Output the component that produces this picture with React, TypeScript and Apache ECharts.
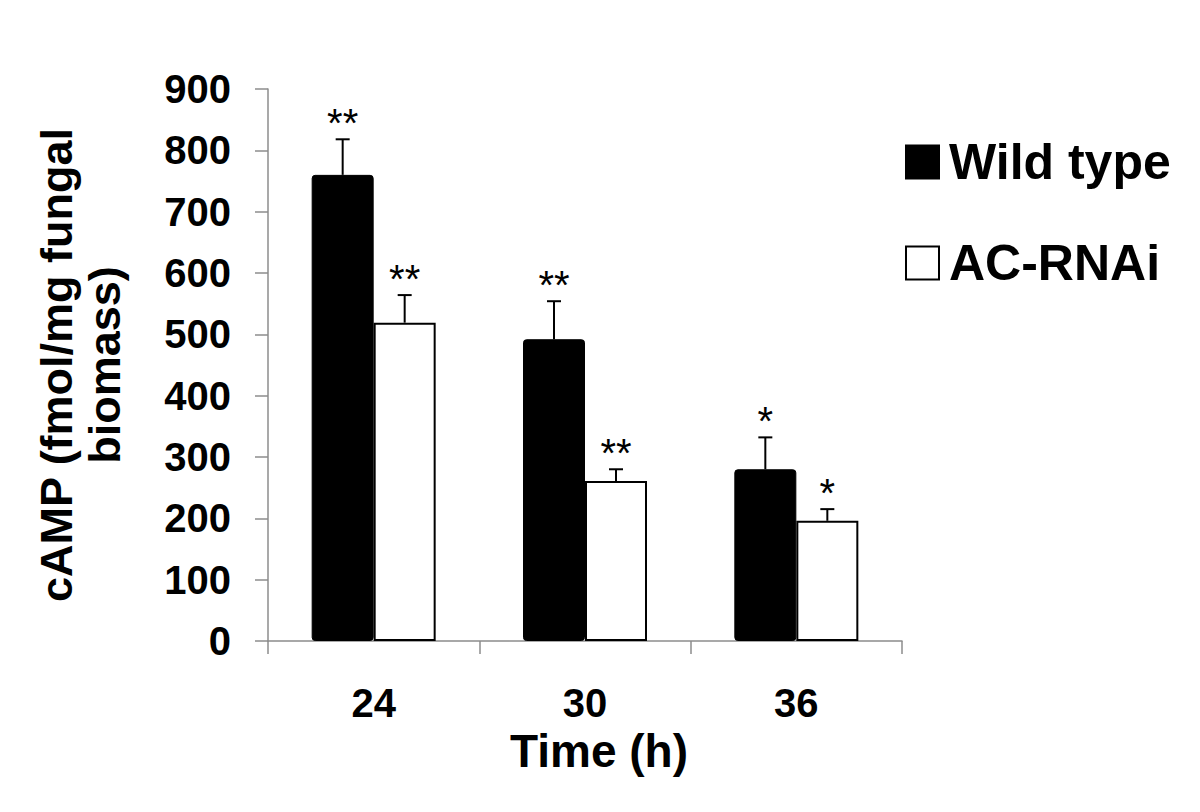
import React, { useEffect, useRef } from "react";
import * as echarts from "echarts";

const categories = ["24", "30", "36"];
const wildType = [760, 492, 280];
const wildTypeErr = [58, 62, 52];
const wildTypeSig = ["**", "**", "*"];
const acRnai = [519, 261, 196];
const acRnaiErr = [45, 19, 19];
const acRnaiSig = ["**", "**", "*"];
const seriesNames = ["Wild type", "AC-RNAi"];
const yMin = 0;
const yMax = 900;
const yStep = 100;

const FONT = "Liberation Sans, Arial, sans-serif";
const BAR_W = 62;

function errorSeries(values: number[], errs: number[], sigs: string[], offset: number) {
  return {
    type: "custom",
    z: 5,
    silent: true,
    data: values.map((v, i) => [i, v, errs[i]]),
    encode: { x: 0, y: 1 },
    renderItem: (params: any, api: any) => {
      const idx = api.value(0);
      const val = api.value(1);
      const err = api.value(2);
      const base = api.coord([idx, val]);
      const top = api.coord([idx, val + err]);
      const x = base[0] + offset;
      return {
        type: "group",
        children: [
          { type: "line", shape: { x1: x, y1: base[1], x2: x, y2: top[1] }, style: { stroke: "#000", lineWidth: 2 } },
          { type: "line", shape: { x1: x - 7, y1: top[1], x2: x + 7, y2: top[1] }, style: { stroke: "#000", lineWidth: 2 } },
          {
            type: "text",
            x,
            y: top[1] - 16,
            style: { text: sigs[params.dataIndex], fontSize: 40, fontFamily: FONT, fill: "#000", align: "center", verticalAlign: "middle" },
          },
        ],
      };
    },
  };
}

export default function App() {
  const ref = useRef<HTMLDivElement>(null);
  useEffect(() => {
    if (!ref.current) return;
    const chart = echarts.init(ref.current, null, { renderer: "svg" });
    const axisGray = "#8c8c8c";
    chart.setOption({
      animation: false,
      backgroundColor: "#fff",
      grid: { left: 268, right: 298, top: 89, bottom: 171 },
      legend: {
        orient: "vertical",
        left: 905,
        top: 137,
        padding: 0,
        itemWidth: 33,
        itemHeight: 33,
        itemGap: 51,
        icon: "rect",
        data: seriesNames,
        textStyle: { fontSize: 50, fontWeight: "bold", fontFamily: FONT, color: "#000", lineHeight: 33, padding: [0, 0, 0, 5] },
      },
      xAxis: {
        type: "category",
        data: categories,
        name: "Time (h)",
        nameLocation: "middle",
        nameGap: 85,
        nameTextStyle: { fontSize: 46, fontWeight: "bold", fontFamily: FONT, color: "#000", padding: [0, 0, 0, 28] },
        axisLine: { lineStyle: { color: axisGray, width: 1.5 } },
        axisTick: { show: true, length: 13, lineStyle: { color: axisGray, width: 1.5 } },
        axisLabel: { fontSize: 40, fontWeight: "bold", fontFamily: FONT, color: "#000", margin: 42 },
      },
      yAxis: {
        type: "value",
        min: yMin,
        max: yMax,
        interval: yStep,
        name: "cAMP (fmol/mg fungal\nbiomass)",
        nameLocation: "middle",
        nameGap: 140,
        nameTextStyle: { fontSize: 45, fontWeight: "bold", fontFamily: FONT, color: "#000", lineHeight: 48, align: "center" },
        axisLine: { show: true, lineStyle: { color: axisGray, width: 1.5 } },
        axisTick: { show: true, length: 13, lineStyle: { color: axisGray, width: 1.5 } },
        splitLine: { show: false },
        axisLabel: { fontSize: 40, fontWeight: "bold", fontFamily: FONT, color: "#000", margin: 37 },
      },
      series: [
        {
          name: seriesNames[0],
          type: "bar",
          data: wildType,
          barWidth: BAR_W,
          barGap: "0%",
          itemStyle: { color: "#000", borderColor: "#000", borderWidth: 1, borderRadius: 3 },
        },
        {
          name: seriesNames[1],
          type: "bar",
          data: acRnai,
          barWidth: BAR_W,
          barGap: "0%",
          itemStyle: { color: "#fff", borderColor: "#000", borderWidth: 2 },
        },
        errorSeries(wildType, wildTypeErr, wildTypeSig, -BAR_W / 2),
        errorSeries(acRnai, acRnaiErr, acRnaiSig, BAR_W / 2),
      ],
    });
    return () => chart.dispose();
  }, []);
  return <div ref={ref} style={{ position: "fixed", left: 0, top: 0, width: 1200, height: 812 }} />;
}
